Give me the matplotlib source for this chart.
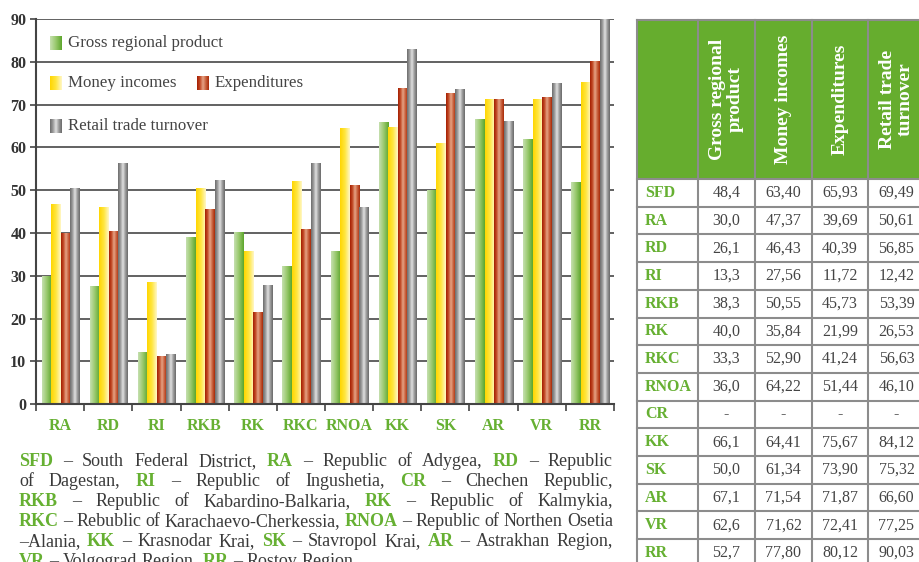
import numpy as np
import matplotlib
matplotlib.use('Agg')
import matplotlib.pyplot as plt
from matplotlib.colors import LinearSegmentedColormap

# chart values
regions = ['RA', 'RD', 'RI', 'RKB', 'RK', 'RKC', 'RNOA', 'KK', 'SK', 'AR', 'VR', 'RR']
grp = [29.8, 27.4, 12.0, 38.9, 40.0, 32.1, 35.6, 65.8, 49.9, 66.5, 61.8, 51.8]
money = [46.6, 45.9, 28.4, 50.3, 35.6, 52.0, 64.4, 64.6, 60.9, 71.1, 71.1, 75.1]
expend = [39.9, 40.3, 11.1, 45.4, 21.3, 40.7, 51.0, 73.7, 72.5, 71.1, 71.6, 79.9]
retail = [50.3, 56.2, 11.5, 52.2, 27.7, 56.2, 45.8, 82.8, 73.5, 66.0, 74.9, 90.0]
series_names = ['Gross regional product', 'Money incomes', 'Expenditures', 'Retail trade turnover']

# table values
table_rows = ['SFD', 'RA', 'RD', 'RI', 'RKB', 'RK', 'RKC', 'RNOA', 'CR', 'KK', 'SK', 'AR', 'VR', 'RR']
t_grp = [48.4, 30.0, 26.1, 13.3, 38.3, 40.0, 33.3, 36.0, None, 66.1, 50.0, 67.1, 62.6, 52.7]
t_money = [63.40, 47.37, 46.43, 27.56, 50.55, 35.84, 52.90, 64.22, None, 64.41, 61.34, 71.54, 71.62, 77.80]
t_exp = [65.93, 39.69, 40.39, 11.72, 45.73, 21.99, 41.24, 51.44, None, 75.67, 73.90, 71.87, 72.41, 80.12]
t_retail = [69.49, 50.61, 56.85, 12.42, 53.39, 26.53, 56.63, 46.10, None, 84.12, 75.32, 66.60, 77.25, 90.03]
t_headers = ['Gross regional\nproduct', 'Money incomes', 'Expenditures', 'Retail trade\nturnover']

notes = [
    'SFD – South Federal District, RA – Republic of Adygea, RD – Republic',
    'of Dagestan, RI – Republic of Ingushetia, CR – Chechen Republic,',
    'RKB – Republic of Kabardino-Balkaria, RK – Republic of Kalmykia,',
    'RKC – Rebublic of Karachaevo-Cherkessia, RNOA – Republic of Northen Osetia',
    '–Alania, KK – Krasnodar Krai, SK – Stavropol Krai, AR – Astrakhan Region,',
    'VR – Volgograd Region, RR – Rostov Region.',
]

plt.rcParams['font.family'] = ['Liberation Serif', 'DejaVu Serif']

GREEN = '#66b032'
TXT = '#3a3a3a'
W, H = 920, 562
fig = plt.figure(figsize=(W / 100, H / 100), dpi=100)
ax = fig.add_axes([36 / W, 1 - 404.3 / H, (614 - 36) / W, (404.3 - 19) / H])

cmaps = [
    LinearSegmentedColormap.from_list('g', ['#c6e0b0', '#98c86c', '#5ca62c']),
    LinearSegmentedColormap.from_list('y', ['#ffd600', '#ffe640', '#fff7c8']),
    LinearSegmentedColormap.from_list('r', ['#a41e02', '#c24a26', '#e6a486', '#c8603c', '#a82a08']),
    LinearSegmentedColormap.from_list('k', ['#6c6c6c', '#9c9c9c', '#e2e2e2', '#9a9a9a', '#6a6a6a']),
]
grad = np.linspace(0, 1, 64).reshape(1, -1)

x = np.arange(len(regions))
bw = 0.197
for i, vals in enumerate([grp, money, expend, retail]):
    bars = ax.bar(x + (i - 1.5) * bw + 0.01, vals, width=bw, color='none', edgecolor='none')
    for b in bars:
        bx, by = b.get_x(), b.get_y()
        ax.imshow(grad, cmap=cmaps[i], extent=[bx, bx + b.get_width(), by, by + b.get_height()],
                  aspect='auto', zorder=2, interpolation='bilinear')

ax.set_xlim(-0.5, len(regions) - 0.5)
ax.set_ylim(0, 90)
ax.set_yticks(np.arange(0, 91, 10))
ax.yaxis.grid(True, color='#555555', lw=1.3)
ax.set_axisbelow(True)
ax.set_xticks(x)
ax.set_xticklabels(regions, color=GREEN, fontweight='bold', fontsize=11.5)
ax.set_xticks(np.arange(len(regions) + 1) - 0.5, minor=True)
ax.tick_params(axis='x', which='major', length=0, pad=10)
ax.tick_params(axis='x', which='minor', length=5, width=1.2, color='#444')
ax.tick_params(axis='y', length=4, width=1.2, color='#444', labelsize=11.5, pad=3)
for lab in ax.get_yticklabels():
    lab.set_fontweight('bold')
    lab.set_color('#333')
for s in ['top', 'right']:
    ax.spines[s].set_visible(False)
for s in ['left', 'bottom']:
    ax.spines[s].set_color('#444')
    ax.spines[s].set_linewidth(1.5)

# overlay in pixel coordinates for legend, table and notes
ov = fig.add_axes([0, 0, 1, 1])
ov.patch.set_alpha(0)

legend_pos = [(50, 43), (50, 83), (197, 83), (50, 126)]
for i, (lx, ly) in enumerate(legend_pos):
    ov.imshow(grad, cmap=cmaps[i], extent=[lx, lx + 12, ly + 7, ly - 7], aspect='auto',
              interpolation='bilinear')
    ov.text(lx + 18, ly, series_names[i], fontsize=12.2, color='#444', va='center', ha='left')

# table
col_x = [637, 698, 755, 812, 868, 925]
head_top, head_bot = 20, 179
row_h = 27.7
line_c = '#8c8c8c'
ov.fill_between([col_x[0], col_x[-1]], head_top, head_bot, color='#66ad2e', lw=0)
for j, hd in enumerate(t_headers):
    cx = (col_x[j + 1] + col_x[j + 2]) / 2
    ov.text(cx, (head_top + head_bot) / 2, hd, rotation=90, ha='center', va='center',
            multialignment='center', color='white', fontweight='bold', fontsize=14,
            linespacing=1.0)
cols = [t_grp, t_money, t_exp, t_retail]
n_rows = len(table_rows)
for r, name in enumerate(table_rows):
    cy = head_bot + (r + 0.5) * row_h
    ov.text(col_x[0] + 8, cy, name, color=GREEN, fontweight='bold', fontsize=11.5,
            ha='left', va='center')
    for j, col in enumerate(cols):
        v = col[r]
        s = '-' if v is None else (f'{v:.1f}' if j == 0 else f'{v:.2f}').replace('.', ',')
        ov.text((col_x[j + 1] + col_x[j + 2]) / 2, cy, s, color='#444', fontsize=11.5,
                ha='center', va='center')
bottom = head_bot + n_rows * row_h
for xc in col_x:
    ov.plot([xc, xc], [head_top, bottom], color=line_c, lw=1.5)
ov.plot([col_x[0], col_x[-1]], [head_top, head_top], color=line_c, lw=1.5)
for r in range(n_rows + 1):
    yy = head_bot + r * row_h
    ov.plot([col_x[0], col_x[-1]], [yy, yy], color=line_c, lw=1.5)

# footnote, justified
abbr = set(regions) | {'SFD', 'CR'}
fig.canvas.draw()
rend = fig.canvas.get_renderer()
x0, x1 = 19, 613
for k, line in enumerate(notes):
    base = 466 + k * 20
    words = line.split(' ')
    texts = []
    for w in words:
        bold = w.rstrip(',.') in abbr
        t = ov.text(0, base, w, fontsize=13.0, va='baseline', ha='left',
                    fontweight='bold' if bold else 'normal', color=GREEN if bold else TXT)
        texts.append(t)
    widths = [t.get_window_extent(rend).width for t in texts]
    if k < len(notes) - 1:
        gap = (x1 - x0 - sum(widths)) / (len(words) - 1)
    else:
        gap = 4.5
    pos = x0
    for t, w in zip(texts, widths):
        t.set_x(pos)
        pos += w + gap

ov.set_xlim(0, W)
ov.set_ylim(H, 0)
ov.axis('off')

fig.savefig('out.png', dpi=100, facecolor='white')
